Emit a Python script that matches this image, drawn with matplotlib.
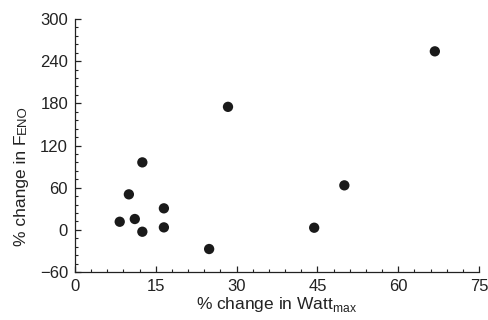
import numpy as np
import matplotlib
matplotlib.use("Agg")
import matplotlib.pyplot as plt
from matplotlib.ticker import MultipleLocator

plt.rcParams['font.family'] = ['Liberation Sans', 'DejaVu Sans']

# % change in Watt_max vs % change in FeNO
watt_change = [8.3, 10.0, 11.1, 12.5, 12.5, 16.5, 16.5, 24.9, 28.4, 44.4, 50.0, 66.8]
feno_change = [11.5, 50.5, 15.4, 96, -2.7, 30.6, 3.5, -27.3, 175, 3, 63.3, 254]

x_ticks = [0, 15, 30, 45, 60, 75]
y_ticks = [-60, 0, 60, 120, 180, 240, 300]

fig = plt.figure(figsize=(4.88, 3.20), dpi=100)
ax = fig.add_axes([0.1537, 0.15, 0.8279, 0.7906])

ax.scatter(watt_change, feno_change, s=55, color='#1a1a1a', edgecolors='none', zorder=3)

ax.set_xlim(0, 75)
ax.set_ylim(-60, 300)
ax.set_xticks(x_ticks)
ax.set_yticks(y_ticks)
ax.set_yticklabels(['\u221260'] + [str(v) for v in y_ticks[1:]])
ax.xaxis.set_minor_locator(MultipleLocator(3))
ax.yaxis.set_minor_locator(MultipleLocator(12))

for side in ['top', 'right']:
    ax.spines[side].set_visible(False)
for side in ['left', 'bottom']:
    ax.spines[side].set_linewidth(0.9)
    ax.spines[side].set_color('#222222')

ax.tick_params(which='major', direction='in', length=4.5, width=0.9,
               labelsize=12, pad=5, colors='#222222')
ax.tick_params(which='minor', direction='in', length=2.5, width=0.8, colors='#222222')

ax.set_xlabel('% change in Watt$_{\\mathregular{max}}$', fontsize=12.5, color='#222222',
              labelpad=1)

# y label with small-caps "ENO"
ylab_x = 26 / 488
ylab_y0 = 1 - 246 / 320
t1 = fig.text(ylab_x, ylab_y0, '% change in F', rotation=90, rotation_mode='anchor',
              ha='left', va='baseline', fontsize=12.5, color='#222222')
fig.canvas.draw()
top = t1.get_window_extent().y1 / fig.bbox.height
fig.text(ylab_x, top + 0.002, 'ENO', rotation=90, rotation_mode='anchor',
         ha='left', va='baseline', fontsize=9.5, color='#222222')

fig.savefig('out.png', dpi=100)
